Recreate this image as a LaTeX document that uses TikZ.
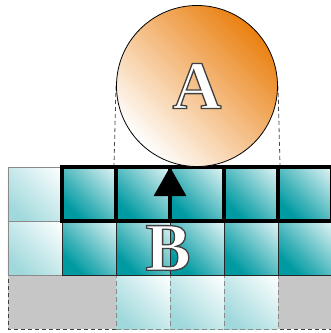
\documentclass[tikz,border=0pt]{standalone}
\usepackage{fontspec}
\newfontfamily\labelfont{Liberation Serif}
\usetikzlibrary{arrows.meta}
\definecolor{tealD}{HTML}{009AA2}
\definecolor{tealL}{HTML}{A0D9DC}
\definecolor{orangeD}{HTML}{EA8010}
\definecolor{grayC}{HTML}{C6C6C6}
\definecolor{lineG}{HTML}{8A8A8A}
\pgfdeclareverticalshading{tealgrad}{100bp}{color(0bp)=(tealD); color(28bp)=(tealD); color(92bp)=(white); color(100bp)=(white)}
\pgfdeclareverticalshading{lightgrad}{100bp}{color(0bp)=(tealL); color(25bp)=(tealL); color(85bp)=(white); color(100bp)=(white)}
\pgfdeclareverticalshading{orangegrad}{100bp}{color(0bp)=(white); color(25bp)=(white); color(75bp)=(orangeD); color(100bp)=(orangeD)}
\newcommand{\outlined}[1]{{\color{white}\special{pdf:literal direct 2 Tr 1.3 w 0.25 G}#1\special{pdf:literal direct 0 Tr}}}
\tikzset{
  cellbase/.style={rectangle, inner sep=0pt, minimum size=54pt},
  tealcell/.style={cellbase, shading=tealgrad, shading angle=-45, draw=black!85, line width=0.9pt},
  thickcell/.style={tealcell, draw=black, line width=4pt},
  lightcell/.style={cellbase, shading=lightgrad, shading angle=-45, draw=lineG, line width=0.9pt},
  dashcell/.style={lightcell, dash pattern=on 5pt off 3pt, line width=1pt},
  guide/.style={draw=black!70, dash pattern=on 4pt off 3pt, line width=0.8pt},
  biglabel/.style={font=\labelfont\bfseries\fontsize{68}{68}\selectfont, inner sep=0pt},
}
\begin{document}
\begin{tikzpicture}[x=1pt, y=-1pt]
\useasboundingbox (0,0) rectangle (331,333);
\clip (0,0) rectangle (331,333);
% grey cells and outer dashed frame of the grid
\path[fill=grayC] (8,275) rectangle (116,329);
\path[fill=grayC] (278,275) rectangle (340,329);
\draw[guide, draw=black!75] (8,167) rectangle (340,329);
% row 3 light cells
\node[dashcell] (c32) at (143,302) {};
\node[dashcell] (c33) at (197,302) {};
\node[dashcell] (c34) at (251,302) {};
% row 2
\node[lightcell] (c20) at (35,248) {};
\node[tealcell] (c21) at (89,248) {};
\node[tealcell] (c22) at (143,248) {};
\node[tealcell] (c23) at (197,248) {};
\node[tealcell] (c24) at (251,248) {};
\node[tealcell] (c25) at (305,248) {};
% row 1
\node[lightcell] (c10) at (35,194) {};
\node[thickcell] (c11) at (89,194) {};
\node[thickcell] (c12) at (143,194) {};
\node[thickcell] (c13) at (197,194) {};
\node[thickcell] (c14) at (251,194) {};
\node[thickcell] (c15) at (305,194) {};
% guides from circle
\coordinate (gl) at (116,86);
\coordinate (gr) at (278,86);
\draw[guide] (gl) -- (c12.north west);
\draw[guide] (gr) -- (c14.north east);
% circle A
\node[circle, draw=black, line width=0.8pt, minimum size=161pt, inner sep=0pt,
      shading=orangegrad, shading angle=-45] (A) at (197,86) {};
\node[biglabel] (Atext) at (A.center) {\outlined{A}};
% arrow
\coordinate (arrS) at (170,222);
\coordinate (arrE) at (170,167);
\draw[line width=3pt, -{Triangle[width=32pt,length=29pt]}] (arrS) -- (arrE);
% label B
\node[biglabel] (B) at (168,248) {\outlined{B}};
\end{tikzpicture}
\end{document}
